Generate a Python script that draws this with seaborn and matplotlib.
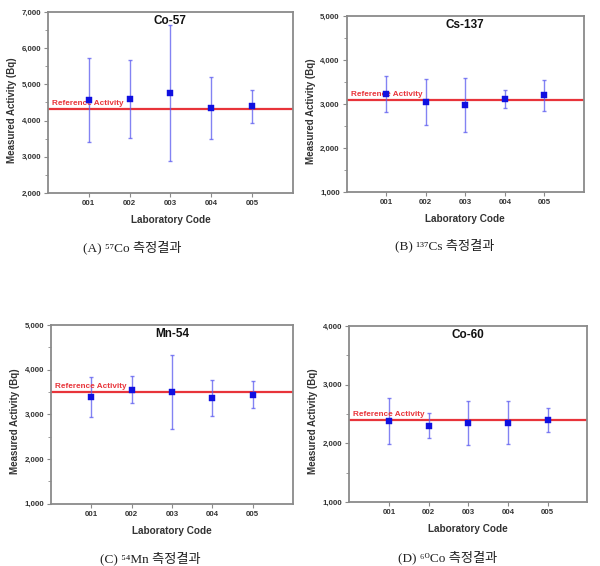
import numpy as np
import pandas as pd
import matplotlib
matplotlib.use("Agg")
import matplotlib.pyplot as plt
import seaborn as sns

sns.set_theme(style="white")
plt.rcParams['font.family'] = ['Liberation Sans', 'DejaVu Sans']

lab_codes = ["001", "002", "003", "004", "005"]

co57_vals = [4560, 4595, 4755, 4335, 4390]
co57_err = [1160, 1080, 1880, 855, 455]
co57_ref = 4330

cs137_vals = [3230, 3050, 2965, 3110, 3195]
cs137_err = [410, 525, 615, 215, 350]
cs137_ref = 3095

mn54_vals = [3385, 3550, 3505, 3370, 3440]
mn54_err = [450, 305, 825, 400, 310]
mn54_ref = 3495

co60_vals = [2380, 2300, 2350, 2355, 2400]
co60_err = [395, 210, 380, 365, 210]
co60_ref = 2390

titles = ["Co-57", "Cs-137", "Mn-54", "Co-60"]
captions = ["(A) ⁵⁷Co 측정결과", "(B) ¹³⁷Cs 측정결과",
            "(C) ⁵⁴Mn 측정결과", "(D) ⁶⁰Co 측정결과"]
y_ranges = [(2000, 7000), (1000, 5000), (1000, 5000), (1000, 4000)]

panels = [
    (co57_vals, co57_err, co57_ref),
    (cs137_vals, cs137_err, cs137_ref),
    (mn54_vals, mn54_err, mn54_ref),
    (co60_vals, co60_err, co60_ref),
]

# axes placements [left, bottom, width, height] in figure fraction
positions = [
    [0.080, 0.659, 0.408, 0.320],
    [0.578, 0.661, 0.395, 0.311],
    [0.085, 0.110, 0.403, 0.316],
    [0.582, 0.113, 0.397, 0.311],
]
caption_xy = [(132, 247), (445, 245), (150, 558), (448, 557)]

fig = plt.figure(figsize=(6.0, 5.66), dpi=100)
fig.patch.set_facecolor("white")

spine_col = "#8a8a8a"
text_col = "#333333"

for i, (vals, errs, ref) in enumerate(panels):
    ax = fig.add_axes(positions[i])
    df = pd.DataFrame({"code": lab_codes, "pos": np.arange(1, len(lab_codes) + 1),
                       "value": vals, "err": errs})
    ax.axhline(ref, color="#e8343a", lw=1.6, zorder=2)
    ax.errorbar(df["pos"], df["value"], yerr=df["err"], fmt="none",
                ecolor="#5a5af0", elinewidth=1.0, capsize=1.5, capthick=1.0,
                alpha=0.75, zorder=3)
    sns.scatterplot(data=df, x="pos", y="value", marker="s", s=22,
                    color="#1010e0", edgecolor="#1010e0", linewidth=0.3,
                    ax=ax, zorder=4, legend=False)
    lo, hi = y_ranges[i]
    ax.set_xlim(0, len(lab_codes) + 1)
    ax.set_ylim(lo, hi)
    ax.set_xticks(df["pos"])
    ax.set_xticklabels(lab_codes)
    yt = np.arange(lo, hi + 1, 1000)
    ax.set_yticks(yt)
    ax.set_yticklabels([f"{v:,}" for v in yt])
    ax.set_yticks(np.arange(lo + 500, hi, 1000), minor=True)
    for lbl in ax.get_xticklabels() + ax.get_yticklabels():
        lbl.set_fontweight("bold")
        lbl.set_fontsize(5.7)
        lbl.set_color(text_col)
    ax.tick_params(axis="both", which="major", direction="out", length=3,
                   width=0.8, color=spine_col, pad=2, bottom=True, left=True)
    ax.tick_params(axis="y", which="minor", direction="out", length=2,
                   width=0.6, color=spine_col, left=True)
    for sp in ax.spines.values():
        sp.set_color(spine_col)
        sp.set_linewidth(1.3)
    ax.set_xlabel("Laboratory Code", fontsize=7.2, fontweight="bold",
                  color=text_col, labelpad=6)
    ax.set_ylabel("Measured Activity (Bq)", fontsize=7.0, fontweight="bold",
                  color=text_col)
    w_px = positions[i][2] * 600
    ax.yaxis.set_label_coords(-31.0 / w_px, 0.46)
    ax.text(0.5, 0.948, titles[i], transform=ax.transAxes, ha="center",
            va="center", fontsize=8.5, fontweight="bold", color="#111111")
    ax.annotate("Reference Activity", xy=(0, ref), xycoords=("axes fraction", "data"),
                xytext=(3, 1.5), textcoords="offset points", ha="left",
                va="bottom", fontsize=5.9, fontweight="bold", color="#e8343a")
    cx, cy = caption_xy[i]
    fig.text(cx / 600, 1 - cy / 566, captions[i], ha="center", va="center",
             fontsize=9.5, color="#222222",
             family=["Liberation Serif", "DejaVu Serif", "Noto Sans CJK KR"])

fig.savefig("out.png", dpi=100, facecolor="white")
